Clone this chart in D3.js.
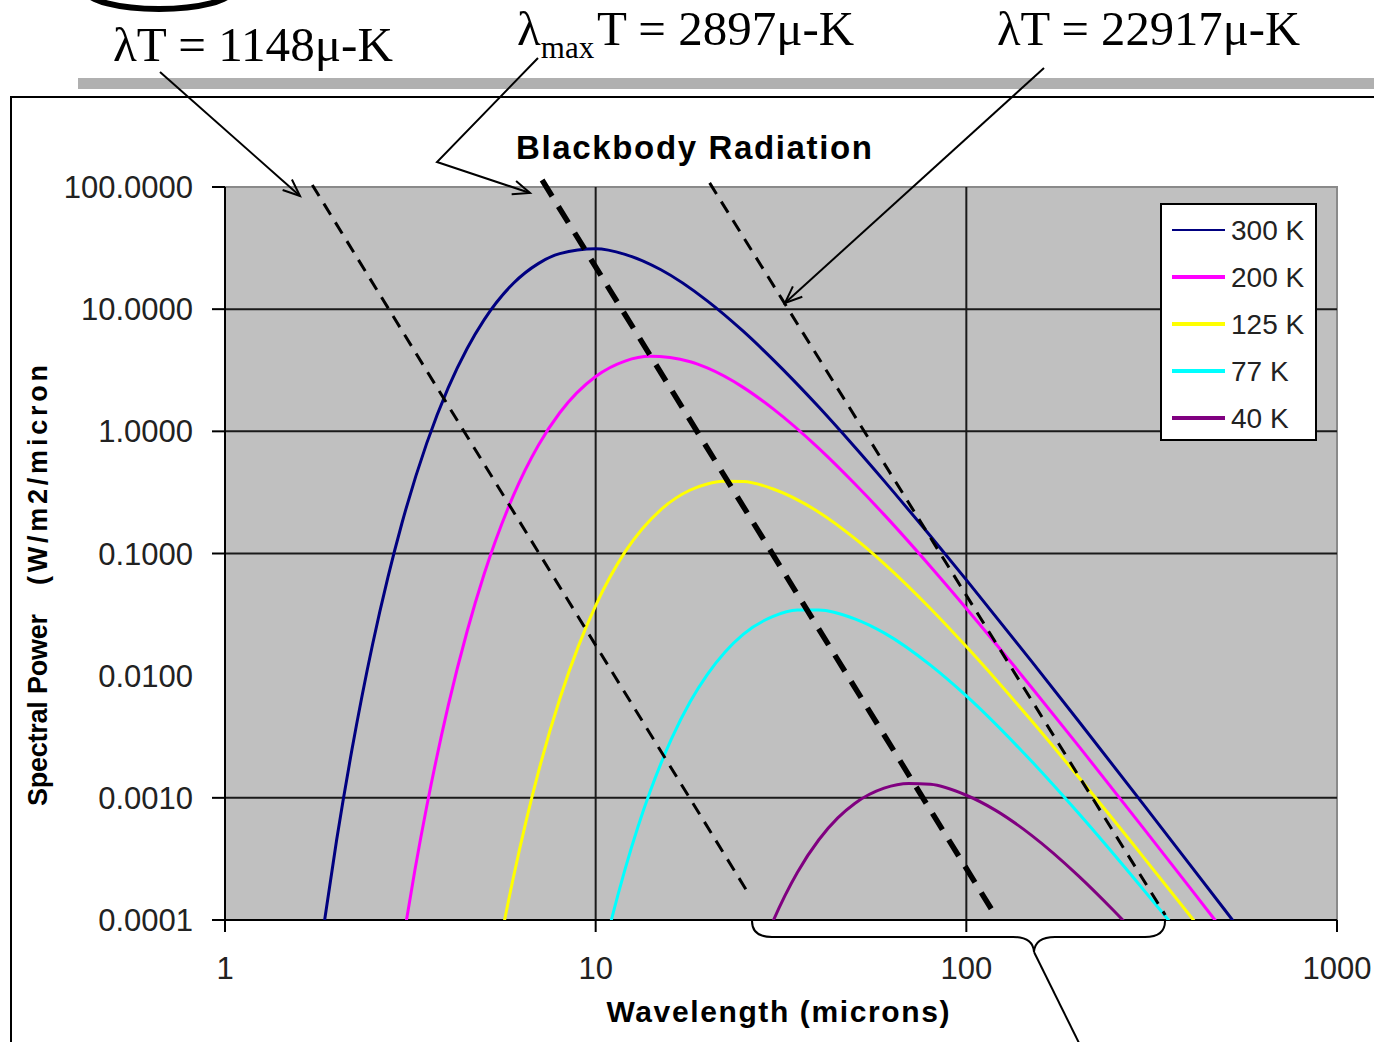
<!DOCTYPE html>
<html>
<head>
<meta charset="utf-8">
<script src="https://cdn.jsdelivr.net/npm/d3@7"></script>
<style>
  html, body { margin: 0; padding: 0; background: #fff; }
  svg { display: block; }
</style>
</head>
<body>
<svg id="chart" width="1374" height="1042"></svg>
<script>
// ---------------- DATA ----------------
const seriesNames = ["300 K", "200 K", "125 K", "77 K", "40 K"];

const wavelengths300 = [1.8, 2, 2.2, 2.5, 2.75, 3, 3.5, 4, 4.5, 5, 6, 7, 8, 10, 12, 15, 20, 25, 30, 40, 50, 60, 80, 100, 150, 200, 300, 400, 500, 600];
const values300 = [5.31e-5, 4.50e-4, 2.47e-3, 0.0179, 0.0634, 0.176, 0.797, 2.27, 4.77, 8.18, 16.3, 23.6, 28.5, 31.2, 28.1, 21.0, 11.7, 6.60, 3.90, 1.58, 0.744, 0.393, 0.139, 0.0608, 0.0131, 4.32e-3, 8.88e-4, 2.87e-4, 1.19e-4, 5.78e-5];

const wavelengths200 = [3, 3.25, 3.5, 4, 4.5, 5, 6, 7, 8, 10, 12, 14, 18, 20, 25, 30, 40, 50, 60, 80, 100, 150, 200, 300, 400, 500, 600];
const values200 = [5.93e-5, 2.52e-4, 8.44e-4, 5.65e-3, 0.0231, 0.0676, 0.299, 0.766, 1.42, 2.81, 3.76, 4.11, 3.71, 3.30, 2.29, 1.54, 0.725, 0.372, 0.208, 0.0783, 0.0355, 8.01e-3, 2.70e-3, 5.68e-4, 1.86e-4, 7.74e-5, 3.78e-5];

const wavelengths125 = [5, 5.5, 6, 6.5, 7, 8, 9, 10, 12, 15, 18, 20, 22, 25, 30, 40, 50, 60, 80, 100, 150, 200, 300, 400, 500];
const values125 = [1.20e-5, 6.06e-5, 2.24e-4, 6.58e-4, 1.61e-3, 6.44e-3, 0.0177, 0.0375, 0.103, 0.229, 0.331, 0.371, 0.390, 0.388, 0.339, 0.218, 0.133, 0.0828, 0.0355, 0.0173, 4.27e-3, 1.50e-3, 3.29e-4, 1.10e-4, 4.63e-5];

const wavelengths77 = [10, 11, 12, 13, 14, 16, 18, 20, 25, 30, 35, 40, 50, 60, 80, 100, 150, 200, 300, 350, 400];
const values77 = [2.87e-5, 9.75e-5, 2.60e-4, 5.77e-4, 1.11e-3, 3.02e-3, 6.14e-3, 0.0102, 0.0218, 0.0304, 0.0344, 0.0345, 0.0292, 0.0224, 0.0122, 6.83e-3, 1.99e-3, 7.57e-4, 1.78e-4, 1.01e-4, 6.14e-5];

const wavelengths40 = [28, 30, 35, 40, 45, 50, 60, 70, 80, 100, 120, 150, 200, 250, 300];
const values40 = [5.73e-5, 9.56e-5, 2.45e-4, 4.54e-4, 6.85e-4, 9.00e-4, 1.20e-3, 1.31e-3, 1.29e-3, 1.05e-3, 7.90e-4, 4.93e-4, 2.32e-4, 1.19e-4, 6.65e-5];

// dashed constant-lambdaT guide lines (endpoints)
const guide1148Lambda = [1.72, 25.8];
const guide1148Value = [104, 1.66e-4];
const guide2897Lambda = [7.17, 119.5];
const guide2897Value = [114, 1.10e-4];
const guide22917Lambda = [20.3, 344];
const guide22917Value = [108, 1.10e-4];

const xTickValues = [1, 10, 100, 1000];
const xTickLabels = ["1", "10", "100", "1000"];
const yTickValues = [100, 10, 1, 0.1, 0.01, 0.001, 0.0001];
const yTickLabels = ["100.0000", "10.0000", "1.0000", "0.1000", "0.0100", "0.0010", "0.0001"];
const yTickMarks = [100, 10, 1, 0.1, 0.001, 0.0001];
const yGridValues = [10, 1, 0.1, 0.001];
const xGridValues = [10, 100];

// ---------------- LAYOUT / STYLE ----------------
const L = 225, R = 1337, T = 187, B = 920;
const colors = ["#000080", "#ff00ff", "#ffff00", "#00ffff", "#800080"];
const lineW = [3, 3, 3, 3, 3];
const legendW = [2, 4, 4, 4, 4];
const sans = "'Liberation Sans', Arial, sans-serif";
const serif = "'Liberation Serif', 'Times New Roman', serif";

const svg = d3.select("#chart");
const x = d3.scaleLog().domain([1, 1000]).range([L, R]);
const y = d3.scaleLog().domain([0.0001, 100]).range([B, T]);

const defs = svg.append("defs");
defs.append("clipPath").attr("id", "plotClip")
  .append("rect").attr("x", L).attr("y", T).attr("width", R - L).attr("height", B - T);
defs.append("marker").attr("id", "arrow")
  .attr("viewBox", "-20 -10 24 20").attr("refX", 0).attr("refY", 0)
  .attr("markerWidth", 24).attr("markerHeight", 20).attr("markerUnits", "userSpaceOnUse")
  .attr("orient", "auto")
  .append("path").attr("d", "M-17,-7 L0,0 L-17,7").attr("fill", "none")
  .attr("stroke", "#000").attr("stroke-width", 2);

// decorations above the chart
svg.append("ellipse").attr("cx", 159).attr("cy", -10).attr("rx", 73).attr("ry", 19)
  .attr("fill", "none").attr("stroke", "#000").attr("stroke-width", 6);
svg.append("rect").attr("x", 78).attr("y", 78).attr("width", 1300).attr("height", 11).attr("fill", "#b0b0b0");
svg.append("rect").attr("x", 11).attr("y", 97).attr("width", 1400).attr("height", 1000)
  .attr("fill", "#fff").attr("stroke", "#000").attr("stroke-width", 2);

// plot area
svg.append("rect").attr("x", L).attr("y", T).attr("width", R - L).attr("height", B - T)
  .attr("fill", "#c0c0c0").attr("stroke", "#8a8a8a").attr("stroke-width", 2);

// grid
svg.append("g").selectAll("line").data(yGridValues).join("line")
  .attr("x1", L).attr("x2", R).attr("y1", d => y(d)).attr("y2", d => y(d))
  .attr("stroke", "#1a1a1a").attr("stroke-width", 2);
svg.append("g").selectAll("line").data(xGridValues).join("line")
  .attr("y1", T).attr("y2", B).attr("x1", d => x(d)).attr("x2", d => x(d))
  .attr("stroke", "#1a1a1a").attr("stroke-width", 2);

// axes
svg.append("line").attr("x1", L).attr("x2", L).attr("y1", T).attr("y2", B + 12)
  .attr("stroke", "#000").attr("stroke-width", 2);
svg.append("line").attr("x1", L - 13).attr("x2", R).attr("y1", B).attr("y2", B)
  .attr("stroke", "#000").attr("stroke-width", 2);
svg.append("g").selectAll("line").data(yTickMarks).join("line")
  .attr("x1", L - 13).attr("x2", L).attr("y1", d => y(d)).attr("y2", d => y(d))
  .attr("stroke", "#000").attr("stroke-width", 2);
svg.append("g").selectAll("line").data(xTickValues).join("line")
  .attr("x1", d => x(d)).attr("x2", d => x(d)).attr("y1", B).attr("y2", B + 12)
  .attr("stroke", "#000").attr("stroke-width", 2);

svg.append("g").selectAll("text").data(yTickValues).join("text")
  .attr("x", L - 32).attr("y", d => y(d)).attr("dy", "0.36em")
  .attr("text-anchor", "end").attr("font-family", sans).attr("font-size", 31)
  .attr("fill", "#222").text((d, i) => yTickLabels[i]);
svg.append("g").selectAll("text").data(xTickValues).join("text")
  .attr("x", d => x(d)).attr("y", 979)
  .attr("text-anchor", "middle").attr("font-family", sans).attr("font-size", 31)
  .attr("fill", "#222").text((d, i) => xTickLabels[i]);

// series
const series = [
  [wavelengths300, values300], [wavelengths200, values200], [wavelengths125, values125],
  [wavelengths77, values77], [wavelengths40, values40]
];
const line = d3.line().x(d => x(d[0])).y(d => y(d[1])).curve(d3.curveMonotoneX);
const curves = svg.append("g").attr("clip-path", "url(#plotClip)");
series.forEach((s, i) => {
  const pts = s[0].map((w, j) => [w, s[1][j]]);
  curves.append("path").datum(pts).attr("d", line)
    .attr("fill", "none").attr("stroke", colors[i]).attr("stroke-width", lineW[i])
    .attr("stroke-linejoin", "round");
});

// dashed guide lines
const guides = [
  { l: guide1148Lambda, v: guide1148Value, w: 3, dash: "13,9" },
  { l: guide2897Lambda, v: guide2897Value, w: 5.5, dash: "19,12" },
  { l: guide22917Lambda, v: guide22917Value, w: 3, dash: "13,9" }
];
const straight = d3.line().x(d => x(d[0])).y(d => y(d[1]));
guides.forEach(g => {
  svg.append("path").datum(g.l.map((w, j) => [w, g.v[j]])).attr("d", straight)
    .attr("fill", "none").attr("stroke", "#000").attr("stroke-width", g.w)
    .attr("stroke-dasharray", g.dash);
});

// legend
const lg = svg.append("g");
lg.append("rect").attr("x", 1161).attr("y", 204).attr("width", 155).attr("height", 236)
  .attr("fill", "#fff").attr("stroke", "#000").attr("stroke-width", 2);
seriesNames.forEach((n, i) => {
  const yy = 230 + i * 47;
  lg.append("line").attr("x1", 1172).attr("x2", 1225).attr("y1", yy).attr("y2", yy)
    .attr("stroke", colors[i]).attr("stroke-width", legendW[i]);
  lg.append("text").attr("x", 1231).attr("y", yy).attr("dy", "0.36em")
    .attr("font-family", sans).attr("font-size", 28).attr("fill", "#222").text(n);
});

// titles
svg.append("text").attr("x", 694).attr("y", 159).attr("text-anchor", "middle")
  .attr("font-family", sans).attr("font-weight", "bold").attr("font-size", 33)
  .attr("textLength", 356).attr("lengthAdjust", "spacing")
  .text("Blackbody Radiation");
svg.append("text").attr("x", 778).attr("y", 1022).attr("text-anchor", "middle")
  .attr("font-family", sans).attr("font-weight", "bold").attr("font-size", 30)
  .attr("textLength", 343).attr("lengthAdjust", "spacing")
  .text("Wavelength (microns)");
svg.append("text").attr("transform", "translate(47,710) rotate(-90)").attr("text-anchor", "middle")
  .attr("font-family", sans).attr("font-weight", "bold").attr("font-size", 27)
  .attr("textLength", 192).attr("lengthAdjust", "spacing")
  .text("Spectral Power");
svg.append("text").attr("transform", "translate(47,475) rotate(-90)").attr("text-anchor", "middle")
  .attr("font-family", sans).attr("font-weight", "bold").attr("font-size", 27)
  .attr("textLength", 220).attr("lengthAdjust", "spacing")
  .text("(W/m2/micron");

// annotations
svg.append("text").attr("x", 113).attr("y", 61).attr("font-family", serif).attr("font-size", 49)
  .attr("textLength", 280).attr("lengthAdjust", "spacingAndGlyphs")
  .text("λT = 1148μ-K");
const t2 = svg.append("text").attr("x", 517).attr("y", 45).attr("font-family", serif).attr("font-size", 49);
t2.append("tspan").text("λ");
t2.append("tspan").attr("font-size", 31).attr("dy", 13).text("max");
t2.append("tspan").attr("dy", -13).attr("x", 597).text("T = 2897μ-K");
svg.append("text").attr("x", 997).attr("y", 45).attr("font-family", serif).attr("font-size", 49)
  .attr("textLength", 303).attr("lengthAdjust", "spacingAndGlyphs")
  .text("λT = 22917μ-K");

const arrowLine = d3.line();
svg.append("path").attr("d", arrowLine([[160, 72], [300, 196]]))
  .attr("fill", "none").attr("stroke", "#000").attr("stroke-width", 2).attr("marker-end", "url(#arrow)");
svg.append("path").attr("d", arrowLine([[538, 58], [437, 162], [530, 193]]))
  .attr("fill", "none").attr("stroke", "#000").attr("stroke-width", 2).attr("marker-end", "url(#arrow)");
svg.append("path").attr("d", arrowLine([[1044, 68], [785, 303]]))
  .attr("fill", "none").attr("stroke", "#000").attr("stroke-width", 2).attr("marker-end", "url(#arrow)");

// brace under axis
svg.append("path")
  .attr("d", "M752,921 Q752,937 772,937 L1013,937 Q1033,937 1034,952 Q1035,937 1055,937 L1145,937 Q1165,937 1165,921")
  .attr("fill", "none").attr("stroke", "#000").attr("stroke-width", 2);
svg.append("path").attr("d", arrowLine([[1034, 952], [1080, 1045]]))
  .attr("fill", "none").attr("stroke", "#000").attr("stroke-width", 2);
</script>
</body>
</html>
